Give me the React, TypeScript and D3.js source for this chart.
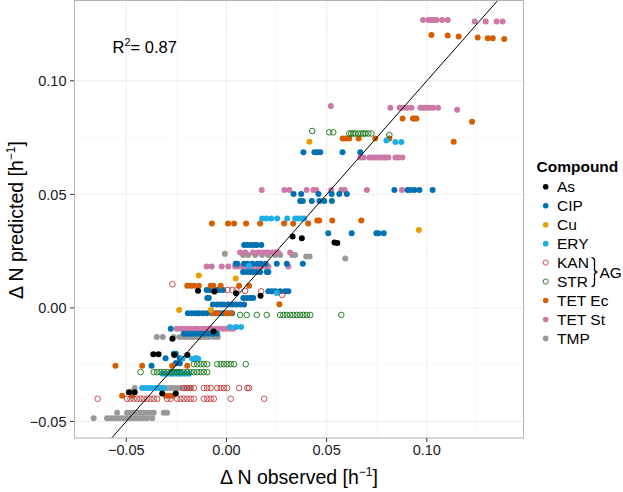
import React from "react";
import * as d3 from "d3";

type P = [number, number];

const compounds = ["As", "CIP", "Cu", "ERY", "KAN", "STR", "TET Ec", "TET St", "TMP"];
const xTicks = [-0.05, 0, 0.05, 0.1];
const yTicks = [-0.05, 0, 0.05, 0.1];
const xMinor = [-0.075, -0.025, 0.025, 0.075, 0.125];
const yMinor = [-0.025, 0.025, 0.075, 0.125];
const r2Label = "0.87";

const row = (y: number, xs: number[]): P[] => xs.map((x) => [x, y] as P);

const asData: P[] = [
  [0.033, 0.0314], [0.0376, 0.0307], [0.0539, 0.0288], [0.0553, 0.0286],
  [-0.0142, 0.0075], [-0.006, 0.0072], [0.0048, 0.0065], [0.017, 0.0053],
  [-0.027, -0.0136], [-0.0064, -0.0104],
  [-0.0365, -0.0204], [-0.0339, -0.0204], [-0.026, -0.0207], [-0.0195, -0.0207],
  [-0.0487, -0.0372], [-0.0458, -0.0372], [-0.0321, -0.0377], [-0.0253, -0.0377],
];

const cipData: P[] = [
  ...row(0.0685, [0.0384, 0.0439, 0.0453, 0.0468, 0.0579, 0.0668]),
  ...row(0.0502, [0.0335, 0.0373, 0.0459, 0.0525, 0.0563, 0.0601]),
  ...row(0.0519, [0.0838, 0.0904, 0.0918, 0.0938, 0.0963, 0.1029]),
  ...row(0.0471, [0.0368, 0.0381, 0.0426, 0.0464, 0.0488, 0.0526]),
  ...row(0.0329, [0.0508, 0.0625, 0.0748, 0.0758, 0.0785]),
  ...row(0.0277, [0.0088, 0.0104, 0.0121, 0.0138, 0.0151, 0.0174]),
  ...row(0.0194, [0.0046, 0.0054, 0.0088, 0.0104, 0.0129, 0.0154, 0.0171, 0.0196, 0.0251, 0.0301, 0.0381]),
  ...row(0.0158, [0.0083, 0.0101, 0.0118, 0.0134, 0.0151, 0.0168, 0.0201, 0.0209]),
  ...row(0.0079, [-0.0099, -0.0083, -0.0066, -0.0049, -0.0033, -0.0016]),
  ...row(0.0073, [0.0209, 0.0226, 0.0243, 0.0268, 0.0293, 0.0309]),
  ...row(0.0044, [-0.0096, -0.0088, 0.0084, 0.0101, 0.0118, 0.0134]),
  ...row(0.0015, [-0.0068, -0.0048, -0.0028, -0.0013, 0.0008, 0.0028, 0.0048, 0.0068, 0.0088]),
  ...row(-0.0024, [-0.0193, -0.0173, -0.0153, -0.0138, -0.0118, -0.0098, -0.0073, -0.0053, -0.0033, -0.0013, 0.0008, 0.0028]),
  [-0.0278, -0.0092],
  ...row(-0.0114, [-0.0213, -0.0196, -0.0179, -0.0163, -0.0146, -0.0128, -0.0108, -0.0088, -0.0068, -0.0048]),
  ...row(-0.0222, [-0.0304, -0.0233, -0.0153]),
  ...row(-0.0202, [-0.0263, -0.0253]),
  ...row(-0.0244, [-0.0254, -0.0246, -0.0233]),
  [-0.0374, -0.0255],
  ...row(-0.0283, [-0.0273, -0.0253, -0.0233]),
];

const cuData: P[] = [
  [0.0414, 0.0732], [0.096, 0.0343], [-0.0138, 0.0143], [0.0046, 0.013],
  [-0.0236, -0.0009], [-0.0078, -0.0009],
];

const eryData: P[] = [
  [0.0798, 0.0737], [0.0843, 0.0731], [0.0873, 0.0731],
  ...row(0.0394, [0.0178, 0.0198, 0.0223, 0.0253, 0.0303, 0.0343, 0.0358, 0.0373, 0.0388]),
  [0.0113, 0.0185], [0.0251, 0.0066],
  ...row(-0.0084, [0.0018, 0.0048, 0.0073]),
  ...row(-0.0224, [-0.0219, -0.0171, -0.0154, -0.0141]),
  ...row(-0.029, [-0.0318, -0.0298, -0.0278, -0.0263, -0.0243, -0.0228, -0.0208, -0.0188]),
  ...row(-0.0353, [-0.0421, -0.0404, -0.0388, -0.0371, -0.0354, -0.0338, -0.0329, -0.0313]),
];

const kanData: P[] = [
  [-0.027, 0.0104], [0.0005, 0.0079], [0.003, 0.0079], [0.005, 0.0077],
  [0.0093, 0.0075], [0.0173, 0.0073], [0.0278, 0.0057],
  ...row(-0.0353, [-0.0213, -0.0196, -0.0179, -0.0163, -0.0113, -0.0096, -0.0079, -0.0046, -0.0029, -0.0013, 0.0004, 0.0063, 0.0104, 0.0113]),
  ...row(-0.04, [-0.0643, -0.0496, -0.0479, -0.0463, -0.0446, -0.0429, -0.0413, -0.0396, -0.0379, -0.0363, -0.0346, -0.0296, -0.0279, -0.0246, -0.0229, -0.0213, -0.0196, -0.0179, -0.0163, -0.0113, -0.0096, -0.0079, -0.0063, 0.0021, 0.0188]),
];

const strData: P[] = [
  [0.0428, 0.0779], [0.0513, 0.0773], [0.0533, 0.0773],
  ...row(0.0768, [0.0613, 0.0623, 0.0633, 0.0643, 0.0658, 0.0673, 0.0683, 0.0693, 0.0708, 0.0723]),
  [0.0813, 0.0761],
  ...row(-0.0031, [0.0068, 0.0101, 0.0151, 0.0201, 0.0268, 0.0284, 0.0301, 0.0318, 0.0334, 0.0351, 0.0368, 0.0384, 0.0401, 0.0418, 0.0573]),
  ...row(-0.0248, [-0.0163, -0.0146, -0.0129, -0.0113, -0.0096, -0.0046, -0.0029, -0.0013, 0.0004, 0.0021, 0.0038, 0.0096]),
  ...row(-0.0283, [-0.0429, -0.0363, -0.0346, -0.0329, -0.0313, -0.0296, -0.0279, -0.0263, -0.0246, -0.0229, -0.0213, -0.0196, -0.0179, -0.0163, -0.0146, -0.0129, -0.0113, -0.0096]),
];

const tetEcData: P[] = [
  [0.1023, 0.1202], [0.1104, 0.12], [0.1159, 0.1195], [0.1254, 0.1191],
  [0.1304, 0.1188], [0.1329, 0.1188], [0.1386, 0.1184],
  ...row(0.0834, [0.0879, 0.0931, 0.0938, 0.0948]),
  [0.1226, 0.082], [0.1134, 0.0732],
  ...row(0.0746, [0.058, 0.0595, 0.0613, 0.066, 0.0743, 0.0813]),
  ...row(0.0372, [-0.0073, 0.0008, 0.0038, 0.0098, 0.0168, 0.0288, 0.0333, 0.0408]),
  ...row(0.0385, [0.0453, 0.0463, 0.0528, 0.0673]),
  ...row(0.0097, [-0.0196, -0.0179, -0.0163, -0.0138, -0.0079, -0.0066, -0.0029, 0.0063, 0.0113]),
  [0.0264, 0.0016],
  ...row(-0.0024, [-0.0068, -0.0043, -0.0003, 0.0023]),
  ...row(-0.0255, [-0.0554, -0.0421, -0.0271, -0.0196]),
  ...row(-0.0387, [-0.0521, -0.0471, -0.0303, -0.0285, -0.0269]),
];

const tetStData: P[] = [
  ...row(0.1268, [0.0981, 0.1009, 0.1021, 0.1034, 0.1048, 0.1076, 0.1104]),
  ...row(0.1261, [0.1239, 0.1294, 0.1348, 0.1378]),
  [0.0521, 0.0889],
  ...row(0.0882, [0.0818, 0.0864, 0.0881, 0.0901, 0.0923, 0.0968, 0.0984, 0.0998, 0.1014, 0.1031, 0.1056]),
  [0.1151, 0.0873],
  ...row(0.0662, [0.0668, 0.0684, 0.0713, 0.0728, 0.0743, 0.0758, 0.0768, 0.0783, 0.0793, 0.0808, 0.0843, 0.0858, 0.0878]),
  ...row(0.0519, [0.0176, 0.0289, 0.0314, 0.04, 0.0434, 0.0448, 0.0523, 0.0573, 0.059, 0.0701, 0.0876]),
  ...row(0.0244, [0.0068, 0.0093, 0.0133, 0.0158, 0.0178, 0.0193, 0.0208, 0.0228, 0.0243, 0.0258, 0.0318]),
  ...row(0.0182, [-0.0099, -0.0074, -0.0024, 0.0009, 0.0043, 0.0058, 0.0073, 0.0088, 0.0103, 0.0118, 0.0133, 0.0148, 0.0163, 0.0178, 0.0193, 0.0209, 0.0309]),
  ...row(-0.0092, [-0.0248, -0.0228, -0.0213, -0.0193, -0.0178, -0.0158, -0.0143, -0.0123, -0.0108, -0.0088, -0.0073, -0.0053, -0.0038, -0.0018, -0.0003, 0.0018, 0.0033]),
];

const tmpData: P[] = [
  [0.0398, 0.0226], [0.0415, 0.0226], [0.0593, 0.0218], [-0.0008, 0.0238],
  ...row(0.0233, [0.0083, 0.0108, 0.0143, 0.0178, 0.0208, 0.0243, 0.0268, 0.0328, 0.0343]),
  ...row(-0.0128, [-0.0348, -0.0318, -0.0263, -0.0233, -0.0213, -0.0198, -0.0178, -0.0163, -0.0143, -0.0128, -0.0108, -0.0088, -0.0063, -0.0043]),
  [-0.0471, -0.0368], [-0.0458, -0.0353],
  ...row(-0.0353, [-0.0296, -0.0279, -0.0263, -0.0246, -0.0229, -0.0213, -0.0196, -0.0179]),
  ...row(-0.0462, [-0.0546, -0.0496, -0.0479, -0.0463, -0.0446, -0.0429, -0.0413, -0.0396, -0.0379, -0.0363, -0.0313, -0.0296]),
  ...row(-0.0486, [-0.0663, -0.0596, -0.0579, -0.0563, -0.0546, -0.0529, -0.0513, -0.0496, -0.0479, -0.0463, -0.0446, -0.0429, -0.0413, -0.0396, -0.0371]),
];

const colors: Record<string, string> = {
  As: "#000000",
  CIP: "#0072B2",
  Cu: "#E69F00",
  ERY: "#1FAFE6",
  KAN: "#C23B3B",
  STR: "#137313",
  "TET Ec": "#D55E00",
  "TET St": "#CC79A7",
  TMP: "#999999",
};
const openSet = new Set(["KAN", "STR"]);

const seriesData: Record<string, P[]> = {
  As: asData,
  CIP: cipData,
  Cu: cuData,
  ERY: eryData,
  KAN: kanData,
  STR: strData,
  "TET Ec": tetEcData,
  "TET St": tetStData,
  TMP: tmpData,
};
const drawOrder = ["TMP", "TET St", "CIP", "TET Ec", "ERY", "Cu", "KAN", "STR", "As"];

const W = 623;
const H = 492;
const L = 74, R = 524, T = 0, B = 438;
const FONT = "'Liberation Sans', Arial, Helvetica, sans-serif";

export default function App() {
  const x = d3.scaleLinear().domain([-0.0761, 0.1485]).range([L, R]);
  const y = d3.scaleLinear().domain([-0.0573, 0.1356]).range([B, T]);
  const fmt = (v: number) => (v < 0 ? "\u2212" : "") + d3.format(".2f")(Math.abs(v));

  const lo = Math.max(x.domain()[0], y.domain()[0]);
  const hi = Math.min(x.domain()[1], y.domain()[1]);
  const diag = d3.line<number>().x((v) => x(v)).y((v) => y(v))([lo, hi]);

  const legendY0 = 186.8;
  const legendStep = 18.95;
  const rFill = 3.0;
  const rOpen = 2.8;

  return (
    <svg
      width={W}
      height={H}
      style={{ position: "absolute", left: 0, top: 0, background: "#fff" }}
      fontFamily={FONT}
    >
      <rect x={0} y={0} width={W} height={H} fill="#fff" />
      <defs>
        <clipPath id="panel">
          <rect x={L} y={T} width={R - L} height={B - T} />
        </clipPath>
      </defs>
      {xMinor.map((v) => (
        <line key={"xm" + v} x1={x(v)} x2={x(v)} y1={T} y2={B} stroke="#f3f3f3" strokeWidth={0.6} />
      ))}
      {yMinor.map((v) => (
        <line key={"ym" + v} x1={L} x2={R} y1={y(v)} y2={y(v)} stroke="#f3f3f3" strokeWidth={0.6} />
      ))}
      {xTicks.map((v) => (
        <line key={"xg" + v} x1={x(v)} x2={x(v)} y1={T} y2={B} stroke="#ebebeb" strokeWidth={0.9} />
      ))}
      {yTicks.map((v) => (
        <line key={"yg" + v} x1={L} x2={R} y1={y(v)} y2={y(v)} stroke="#ebebeb" strokeWidth={0.9} />
      ))}
      <g clipPath="url(#panel)">
        {drawOrder.map((c) =>
          seriesData[c].map((d, i) =>
            openSet.has(c) ? (
              <circle key={c + i} cx={x(d[0])} cy={y(d[1])} r={rOpen} fill="none" stroke={colors[c]} strokeWidth={0.9} />
            ) : (
              <circle key={c + i} cx={x(d[0])} cy={y(d[1])} r={rFill} fill={colors[c]} />
            )
          )
        )}
        <path d={diag || ""} stroke="#000" strokeWidth={1} fill="none" />
      </g>
      <rect x={L + 0.5} y={T + 0.5} width={R - L - 1} height={B - T - 0.5} fill="none" stroke="#b3b3b3" strokeWidth={1} />
      {xTicks.map((v) => (
        <g key={"xt" + v}>
          <line x1={x(v)} x2={x(v)} y1={B} y2={B + 4} stroke="#333" strokeWidth={1} />
          <text x={x(v)} y={455} fontSize={14.5} textAnchor="middle" fill="#1a1a1a">
            {fmt(v)}
          </text>
        </g>
      ))}
      {yTicks.map((v) => (
        <g key={"yt" + v}>
          <line x1={L - 4} x2={L} y1={y(v)} y2={y(v)} stroke="#333" strokeWidth={1} />
          <text x={66.5} y={y(v) + 5.2} fontSize={14.5} textAnchor="end" fill="#1a1a1a">
            {fmt(v)}
          </text>
        </g>
      ))}
      <text x={(L + R) / 2} y={483.5} fontSize={19.5} textAnchor="middle" fill="#000">
        {"\u0394 N observed [h"}
        <tspan fontSize={12} dy={-8}>{"\u22121"}</tspan>
        <tspan dy={8}>{"]"}</tspan>
      </text>
      <text transform={`translate(23.3,220) rotate(-90)`} fontSize={19.5} textAnchor="middle" fill="#000">
        {"\u0394 N predicted [h"}
        <tspan fontSize={12} dy={-8}>{"\u22121"}</tspan>
        <tspan dy={8}>{"]"}</tspan>
      </text>
      <text x={112.5} y={53} fontSize={16.5} fill="#000">
        {"R"}
        <tspan fontSize={11} dy={-7}>{"2"}</tspan>
        <tspan dy={7}>{"= " + r2Label}</tspan>
      </text>
      <text x={536.5} y={171.5} fontSize={15.5} fontWeight="bold" fill="#000">
        Compound
      </text>
      {compounds.map((c, i) => {
        const cy = legendY0 + i * legendStep;
        return (
          <g key={"lg" + c}>
            {openSet.has(c) ? (
              <circle cx={545.7} cy={cy} r={2.6} fill="none" stroke={colors[c]} strokeWidth={0.9} />
            ) : (
              <circle cx={545.7} cy={cy} r={2.8} fill={colors[c]} />
            )}
            <text x={557} y={cy + 5.6} fontSize={15.5} fill="#000">
              {c}
            </text>
          </g>
        );
      })}
      {(() => {
        const yTop = legendY0 + 4 * legendStep - 5;
        const yBot = legendY0 + 5 * legendStep + 5;
        const mid = (yTop + yBot) / 2;
        const xb = 591.5;
        const h = (yBot - yTop) / 2;
        const d = `M${xb},${yTop} q3,0 3,3 v${h - 6} q0,3 3,3 q-3,0 -3,3 v${h - 6} q0,3 -3,3`;
        return (
          <g>
            <path d={d} fill="none" stroke="#000" strokeWidth={1.3} />
            <text x={599.5} y={mid + 5.6} fontSize={15.5} fill="#000">
              AG
            </text>
          </g>
        );
      })()}
    </svg>
  );
}
